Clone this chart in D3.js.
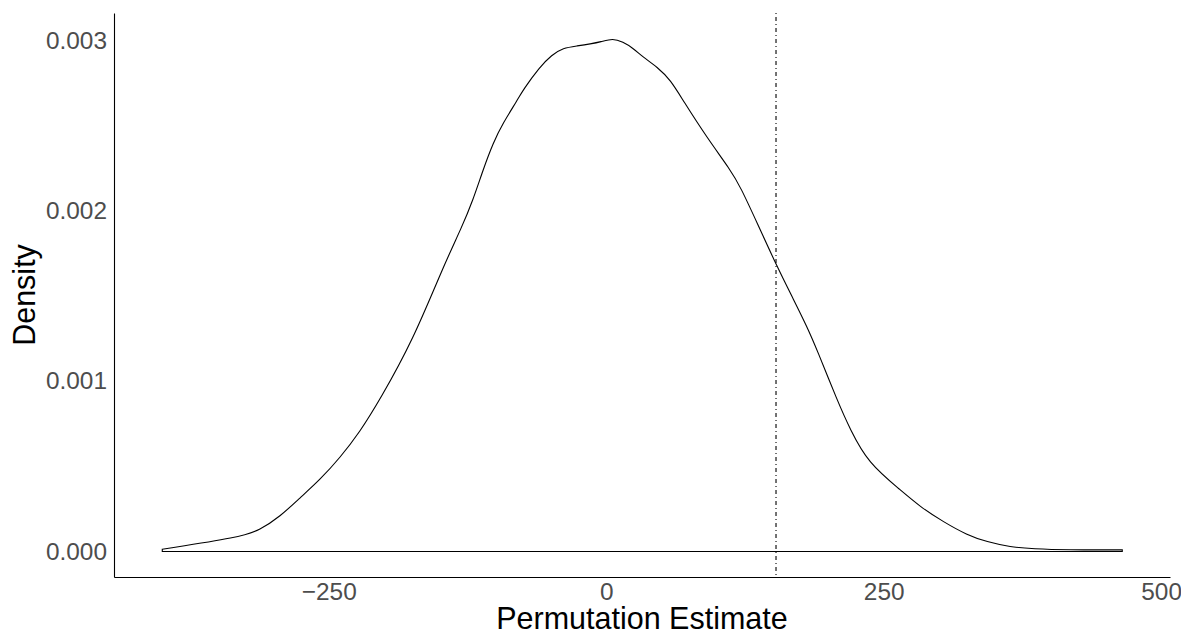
<!DOCTYPE html>
<html>
<head>
<meta charset="utf-8">
<script src="https://cdn.jsdelivr.net/npm/d3@7"></script>
<style>
  body { margin: 0; background: #fff; }
  svg { display: block; font-family: "Liberation Sans", Helvetica, Arial, sans-serif; }
</style>
</head>
<body>
<div id="chart"></div>
<script>
(function () {
    // --- Datos ---
    const densX = [-400, -330, -312, -294, -276, -258, -240, -222, -204, -174, -147, -130, -120, -111, -102, -93, -80, -75, -60, -49, -39, -26, -14, -5, 6, 15, 24, 33, 46, 58, 69, 91, 112, 121, 136, 154, 169, 181, 190, 208, 220, 236, 265, 283, 304, 325, 343, 364, 385, 415, 465];
    const densY = [0.000013, 0.000083, 0.000126, 0.000204, 0.000314, 0.000420, 0.000549, 0.000701, 0.000889, 0.001241, 0.001670, 0.001904, 0.002063, 0.002239, 0.002397, 0.002514, 0.002649, 0.002708, 0.002843, 0.002914, 0.002955, 0.002967, 0.002979, 0.002990, 0.003012, 0.002990, 0.002955, 0.002902, 0.002843, 0.002767, 0.002649, 0.002426, 0.002239, 0.002139, 0.001928, 0.001670, 0.001476, 0.001318, 0.001183, 0.000889, 0.000713, 0.000520, 0.000361, 0.000261, 0.000173, 0.000097, 0.000056, 0.000026, 0.000015, 0.000009, 0.000009];
    const observed = 153;
    const xTicks = [-250, 0, 250, 500];
    const yTicks = [0, 0.001, 0.002, 0.003];

    const width = 1181, height = 635;
    const plot = { left: 114, right: 1170, top: 13, bottom: 577 };

    const svg = d3.select("#chart").append("svg")
        .attr("width", width)
        .attr("height", height);

    const x = d3.scaleLinear().domain([-443.5, 508]).range([plot.left, plot.right]);
    const y = d3.scaleLinear().domain([-0.00015, 0.00316]).range([plot.bottom, plot.top]);

    // Curva de densidad (polígono cerrado sobre y = 0)
    const pts = densX.map((v, i) => [v, densY[i]]);
    const line = d3.line().x(d => x(d[0])).y(d => y(d[1])).curve(d3.curveBasis);
    const curvePath = line(pts);
    svg.append("path")
        .attr("d", curvePath + `L${x(densX[densX.length - 1])},${y(0)}L${x(densX[0])},${y(0)}Z`)
        .attr("fill", "none")
        .attr("stroke", "#000")
        .attr("stroke-width", 1.1);

    // Línea vertical del estimado observado
    svg.append("line")
        .attr("x1", x(observed)).attr("x2", x(observed))
        .attr("y1", plot.top).attr("y2", plot.bottom)
        .attr("stroke", "#000")
        .attr("stroke-width", 1.1)
        .attr("stroke-dasharray", "1,3,4,3");

    // Ejes
    const xAxis = svg.append("g")
        .attr("transform", `translate(0,${plot.bottom})`)
        .call(d3.axisBottom(x).tickValues(xTicks).tickSize(0).tickPadding(6).tickFormat(d3.format("d")));
    const yAxis = svg.append("g")
        .attr("transform", `translate(${plot.left},0)`)
        .call(d3.axisLeft(y).tickValues(yTicks).tickSize(0).tickPadding(7).tickFormat(d3.format(".3f")));

    [xAxis, yAxis].forEach(a => {
        a.select(".domain").attr("stroke", "#000").attr("stroke-width", 1.1);
        a.selectAll("text")
            .attr("fill", "#4d4d4d")
            .style("font-size", "24.4px")
            .style("font-family", '"Liberation Sans", Helvetica, Arial, sans-serif');
    });

    // Títulos
    svg.append("text")
        .attr("x", (plot.left + plot.right) / 2)
        .attr("y", 629)
        .attr("text-anchor", "middle")
        .style("font-size", "30.5px")
        .attr("fill", "#000")
        .text("Permutation Estimate");

    svg.append("text")
        .attr("transform", `translate(35,${(plot.top + plot.bottom) / 2}) rotate(-90)`)
        .attr("text-anchor", "middle")
        .style("font-size", "30.5px")
        .attr("fill", "#000")
        .text("Density");
})();
</script>
</body>
</html>
